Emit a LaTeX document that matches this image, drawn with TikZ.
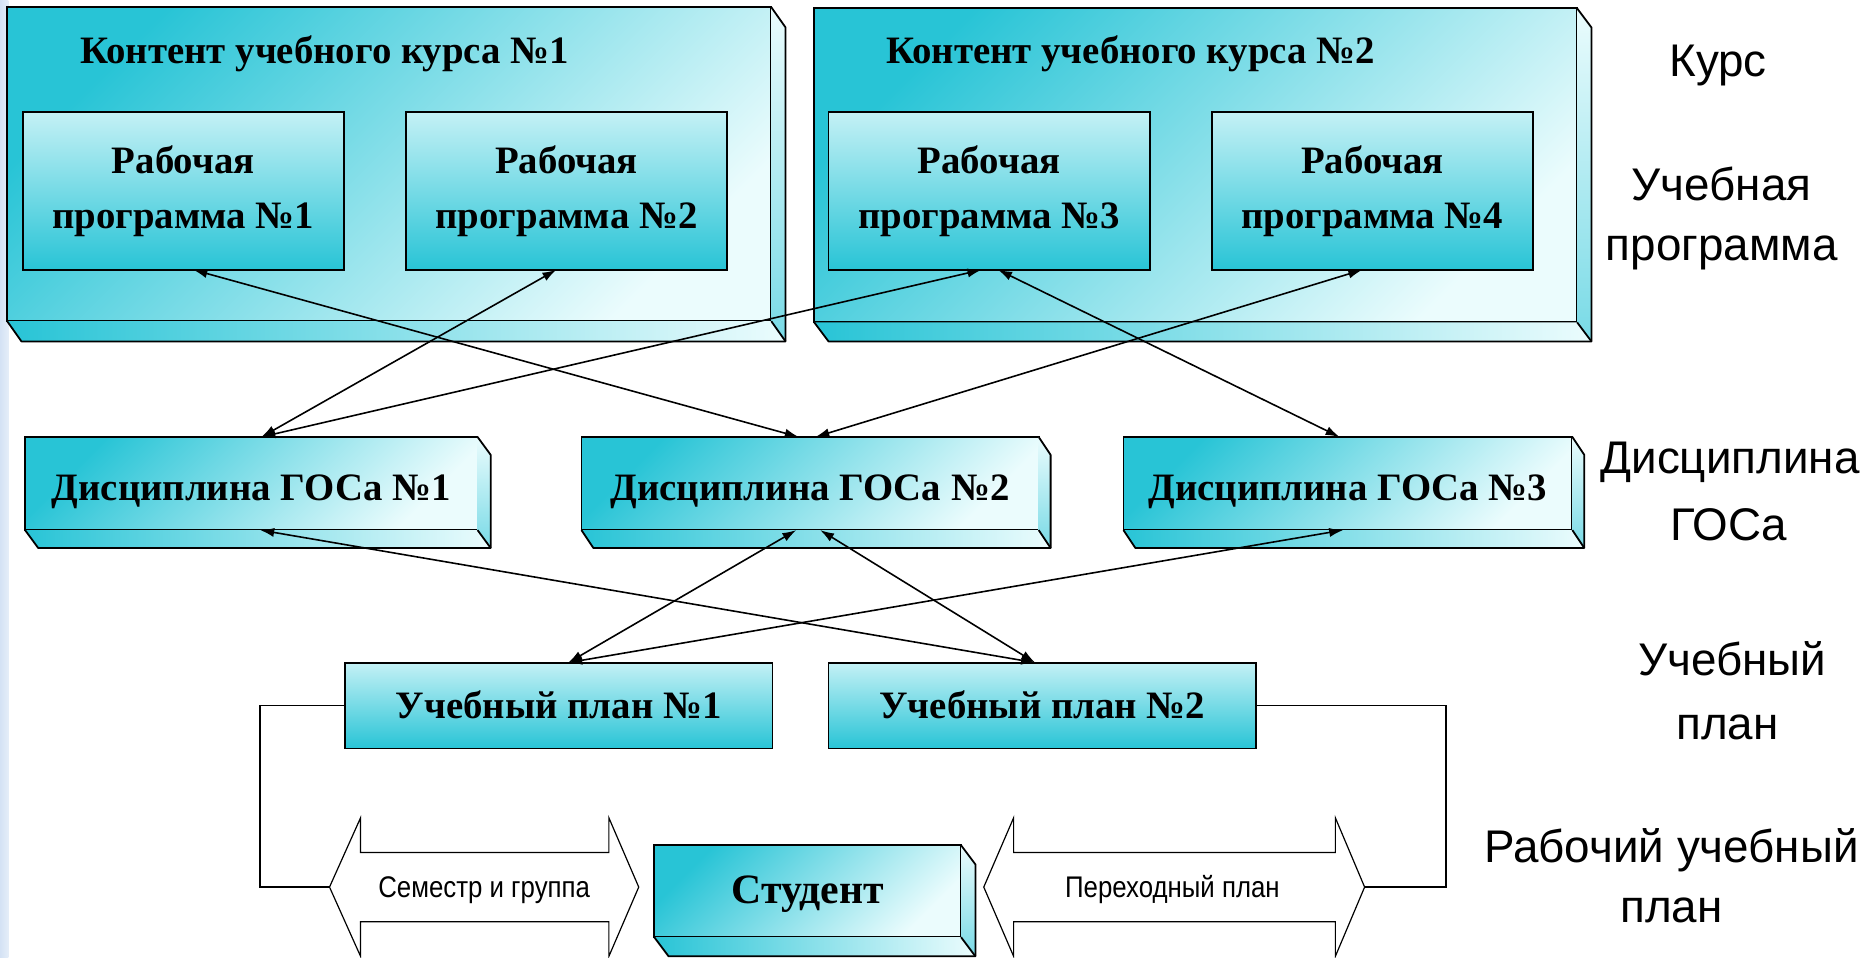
\documentclass[tikz,border=0pt]{standalone}
\usepackage{fontspec}
\usepackage{graphicx}
\setmainfont{Liberation Serif}
\setsansfont{Liberation Sans}
\usetikzlibrary{arrows.meta,calc}
\newcommand{\pxu}{0.6pt}
\definecolor{cyanD}{RGB}{40,196,214}
\definecolor{cyanM}{RGB}{120,218,230}
\definecolor{cyanL}{RGB}{235,252,253}
\definecolor{stripblue}{RGB}{212,226,244}

\tikzset{
 box/.style={draw=black, line width=0.9pt, inner sep=0pt, outer sep=0pt, anchor=north west,
   font=\fontsize{19.5}{27.6}\selectfont\bfseries, align=center},
 diagface/.style={box, shade, top color=cyanD, bottom color=cyanL, shading angle=45},
 vertface/.style={box, shade, top color=cyanL!80!cyanD, bottom color=cyanD},
 link/.style={{Latex[length=7pt,width=4.6pt]}-{Latex[length=7pt,width=4.6pt]}, line width=0.8pt},
 elbow/.style={line width=0.8pt},
 blockarrow/.style={draw=black, fill=white, line width=0.6pt, line join=miter},
 level/.style={anchor=base, font=\sffamily\fontsize{23}{27}\selectfont},
 small/.style={anchor=base, font=\sffamily\fontsize{15}{18}\selectfont},
 title/.style={anchor=base, font=\fontsize{19.5}{24}\selectfont\bfseries},
 oneline/.style={text height=16pt, text depth=0pt},
}

\newcommand{\addDepth}[3]{%
  \shade[left color=cyanD, right color=cyanL] (#1.south west) -- (#1.south east) -- ($(#1.south east)+(#2,#3)$) -- ($(#1.south west)+(#2,#3)$) -- cycle;
  \shade[top color=cyanL, bottom color=cyanM] (#1.north east) -- ($(#1.north east)+(#2,#3)$) -- ($(#1.south east)+(#2,#3)$) -- (#1.south east) -- cycle;
  \draw[line width=0.9pt, line join=round] (#1.north east) -- ($(#1.north east)+(#2,#3)$) -- ($(#1.south east)+(#2,#3)$) -- ($(#1.south west)+(#2,#3)$) -- (#1.south west);
  \draw[line width=0.9pt] (#1.south east) -- ($(#1.south east)+(#2,#3)$);
}

\begin{document}
\begin{tikzpicture}[x=\pxu, y=-\pxu]
\useasboundingbox (0,0) rectangle (1568,802);
\fill[white] (0,0) rectangle (1568,802);
\shade[left color=stripblue, right color=stripblue!60] (0,0) rectangle (7,802);

% course boxes
\node[diagface, minimum width=640*\pxu, minimum height=263*\pxu] (c1) at (6,6) {};
\addDepth{c1}{12}{17}
\node[diagface, minimum width=639*\pxu, minimum height=263*\pxu] (c2) at (682,7) {};
\addDepth{c2}{12}{16}
\node[title] (t1) at (272,53) {Контент учебного курса №1};
\node[title] (t2) at (947,53) {Контент учебного курса №2};

% working programmes
\node[vertface, minimum width=269*\pxu, minimum height=132*\pxu] (rp1) at (19,94) {Рабочая\\программа №1};
\node[vertface, minimum width=269*\pxu, minimum height=132*\pxu] (rp2) at (340,94) {Рабочая\\программа №2};
\node[vertface, minimum width=269*\pxu, minimum height=132*\pxu] (rp3) at (694,94) {Рабочая\\программа №3};
\node[vertface, minimum width=269*\pxu, minimum height=132*\pxu] (rp4) at (1015,94) {Рабочая\\программа №4};

% disciplines
\node[diagface, oneline, text height=16.6pt, minimum width=379*\pxu, minimum height=78*\pxu] (d1) at (21,366) {Дисциплина ГОСа №1};
\addDepth{d1}{11}{15}
\node[diagface, oneline, text height=16.6pt, minimum width=383*\pxu, minimum height=78*\pxu] (d2) at (487,366) {Дисциплина ГОСа №2};
\addDepth{d2}{10}{15}
\node[diagface, oneline, text height=16.6pt, minimum width=376*\pxu, minimum height=78*\pxu] (d3) at (941,366) {Дисциплина ГОСа №3};
\addDepth{d3}{10}{15}

% curricula
\node[vertface, oneline, text height=12.8pt, minimum width=358*\pxu, minimum height=72*\pxu] (up1) at (289,555) {Учебный план №1};
\node[vertface, oneline, text height=12.8pt, minimum width=358*\pxu, minimum height=72*\pxu] (up2) at (694,555) {Учебный план №2};

% block arrows
\coordinate (semL) at (276,743);
\coordinate (semR) at (535,743);
\draw[blockarrow] (semL) -- (302,685) -- (302,714) -- (510,714) -- (510,685) -- (semR) -- (510,801) -- (510,772) -- (302,772) -- (302,801) -- cycle;
\node[small] (sem) at (405.5,752) {\scalebox{0.865}[1]{Семестр и группа}};

\coordinate (perL) at (824,743);
\coordinate (perR) at (1143,743);
\draw[blockarrow] (perL) -- (849,685) -- (849,714) -- (1118.5,714) -- (1118.5,685) -- (perR) -- (1118.5,801) -- (1118.5,772) -- (849,772) -- (849,801) -- cycle;
\node[small] (per) at (982,752) {\scalebox{0.865}[1]{Переходный план}};

% student
\node[diagface, oneline, text height=12.8pt, font=\fontsize{21}{25}\selectfont\bfseries, minimum width=257*\pxu, minimum height=77*\pxu] (st) at (548,708) {Студент};
\addDepth{st}{12}{16}

% elbow connectors
\coordinate (elL) at (218,743);
\coordinate (elR) at (1211,743);
\draw[elbow] (up1.west) -| (elL) -- (semL);
\draw[elbow] (up2.east) -| (elR) -- (perR);

% links
\draw[link] ($(rp1.south)+(8.5,0)$) -- ($(d2.north)+(-9.5,0)$);
\draw[link] ($(rp2.south)+(-8.5,0)$) -- ($(d1.north)+(8.5,0)$);
\draw[link] ($(rp3.south)+(-6.5,0)$) -- ($(d1.north)+(8.5,0)$);
\draw[link] ($(rp3.south)+(7.5,0)$) -- ($(d3.north)+(-7,0)$);
\draw[link] ($(rp4.south)+(-8.5,0)$) -- ($(d2.north)+(4.5,0)$);
\draw[link] ($(d1.south)+(7.5,0)$) -- ($(up2.north)+(-6,0)$);
\draw[link] ($(d2.south)+(-11.5,0)$) -- ($(up1.north)+(8,0)$);
\draw[link] ($(d2.south)+(8.5,0)$) -- ($(up2.north)+(-6,0)$);
\draw[link] ($(d3.south)+(-4,0)$) -- ($(up1.north)+(8,0)$);

% level labels
\node[level] (lk) at (1439,64) {Курс};
\node[level] (lup1) at (1442,168) {Учебная};
\node[level] (lup2) at (1442,218) {программа};
\node[level] (ld1) at (1449,397) {Дисциплина};
\node[level] (ld2) at (1448,453) {ГОСа};
\node[level] (lpl1) at (1451,566) {Учебный};
\node[level] (lpl2) at (1447,619) {план};
\node[level] (lr1) at (1400,722) {Рабочий учебный};
\node[level] (lr2) at (1400,773) {план};
\end{tikzpicture}
\end{document}
